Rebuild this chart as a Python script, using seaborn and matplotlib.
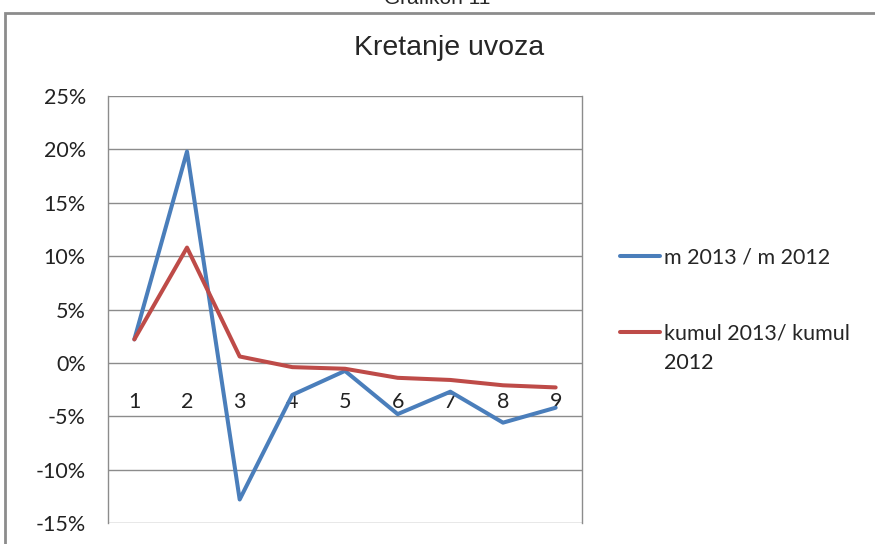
import pandas as pd
import seaborn as sns
import matplotlib.pyplot as plt
from matplotlib.patches import Rectangle
from matplotlib.ticker import FuncFormatter

months = [1, 2, 3, 4, 5, 6, 7, 8, 9]
m_vs_m = [2.2, 19.8, -12.8, -3.0, -0.75, -4.8, -2.7, -5.6, -4.2]
kumul = [2.2, 10.8, 0.6, -0.4, -0.55, -1.4, -1.6, -2.1, -2.3]
series_names = ['m 2013 / m 2012', 'kumul 2013/ kumul']
label_wrap = '2012'  # second line of the second legend label

df = pd.DataFrame({'mjesec': months * 2,
                   'promjena': m_vs_m + kumul,
                   'serija': [series_names[0]] * 9 + [series_names[1]] * 9})

sns.set_style('white')
plt.rcParams['font.family'] = ['Lato', 'DejaVu Sans']

fig = plt.figure(figsize=(8.75, 5.44), dpi=100)
ax = fig.add_axes([108 / 875, 1 - 523 / 544, 474 / 875, 427 / 544])

palette = {series_names[0]: '#4A7EBB', series_names[1]: '#BE4B48'}
sns.lineplot(data=df, x='mjesec', y='promjena', hue='serija', palette=palette,
             linewidth=2.9, ax=ax)

ax.set_xlim(0.5, 9.5)
ax.set_ylim(-15, 25)
ax.set_yticks(range(-15, 26, 5))
ax.yaxis.set_major_formatter(FuncFormatter(lambda v, p: f'{v:.0f}%'))
ax.yaxis.grid(True, color='#8c8c8c', linewidth=1)
ax.xaxis.grid(False)

for s in ['left', 'right']:
    ax.spines[s].set_color('#8c8c8c')
    ax.spines[s].set_linewidth(1)
ax.spines['top'].set_visible(False)
ax.spines['bottom'].set_position(('data', 0))
ax.spines['bottom'].set_visible(False)

ax.set_xticks(months)
ax.tick_params(axis='x', length=0, pad=21, labelsize=15.5, colors='#222222')
ax.tick_params(axis='y', length=0, pad=16, labelsize=15.5, colors='#222222')
ax.set_xlabel('')
ax.set_ylabel('')

handles, labels = ax.get_legend_handles_labels()
leg = ax.legend(handles, labels, loc='upper left', bbox_to_anchor=(1.08, 0.646),
                frameon=False, fontsize=15.5, handlelength=1.85, handletextpad=0.2,
                labelspacing=2.6, borderaxespad=0, borderpad=0)

fig.text(449 / 875, 1 - 48 / 544, 'Kretanje uvoza', ha='center', va='center',
         fontsize=20.5, family='Liberation Sans')

fig.patches.append(Rectangle((5 / 875, -0.05), 1.0, 1.05 - 13 / 544,
                             transform=fig.transFigure, fill=False,
                             edgecolor='#8c8c8c', linewidth=2))
fig.text(0.5, 1 + 1 / 544, 'Grafikon 11', ha='center', va='center',
         fontsize=15, family='Liberation Sans')

# put the wrapped part of the second label under its first line
fig.canvas.draw()
bb = leg.get_texts()[1].get_window_extent()
fig.text(bb.x0 / fig.dpi / 8.75, (bb.y0 + bb.y1) / 2 / fig.dpi / 5.44 - 30 / 544,
         label_wrap, ha='left', va='center', fontsize=15.5, color='#222222')

plt.savefig('out.png', dpi=100)
